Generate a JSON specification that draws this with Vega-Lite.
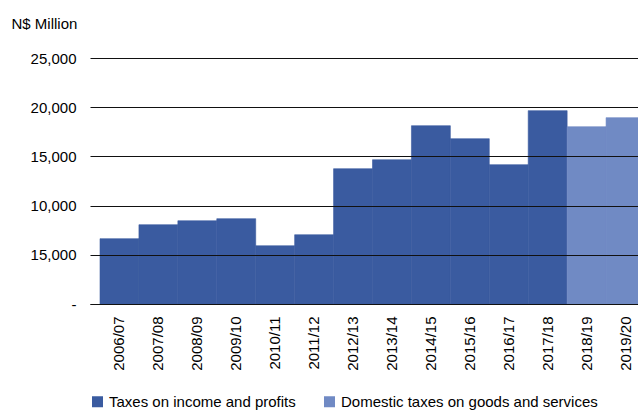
{
  "$schema": "https://vega.github.io/schema/vega-lite/v6.json",
  "width": 548,
  "height": 246,
  "autosize": {"type": "none"},
  "padding": {"left": 90, "top": 58, "right": 0, "bottom": 106},
  "config": {
    "font": "Liberation Sans",
    "view": {"stroke": null},
    "axis": {"labelFont": "Liberation Sans", "titleFont": "Liberation Sans", "labelColor": "#000", "titleColor": "#000"}
  },
  "data": {
    "values": [
      {"year": "2006/07", "value": 6640, "type": "Taxes on income and profits"},
      {"year": "2007/08", "value": 8060, "type": "Taxes on income and profits"},
      {"year": "2008/09", "value": 8460, "type": "Taxes on income and profits"},
      {"year": "2009/10", "value": 8670, "type": "Taxes on income and profits"},
      {"year": "2010/11", "value": 5920, "type": "Taxes on income and profits"},
      {"year": "2011/12", "value": 7040, "type": "Taxes on income and profits"},
      {"year": "2012/13", "value": 13750, "type": "Taxes on income and profits"},
      {"year": "2013/14", "value": 14660, "type": "Taxes on income and profits"},
      {"year": "2014/15", "value": 18120, "type": "Taxes on income and profits"},
      {"year": "2015/16", "value": 16800, "type": "Taxes on income and profits"},
      {"year": "2016/17", "value": 14160, "type": "Taxes on income and profits"},
      {"year": "2017/18", "value": 19650, "type": "Taxes on income and profits"},
      {"year": "2018/19", "value": 18020, "type": "Domestic taxes on goods and services"},
      {"year": "2019/20", "value": 18940, "type": "Domestic taxes on goods and services"}
    ]
  },
  "mark": {"type": "bar", "strokeWidth": 0.6},
  "encoding": {
    "x": {
      "field": "year",
      "type": "ordinal",
      "sort": null,
      "scale": {"range": [0, 565], "paddingInner": 0, "paddingOuter": 0.257},
      "axis": {
        "title": null,
        "labelAngle": 270,
        "labelAlign": "right",
        "labelBaseline": "middle",
        "labelFontSize": 15,
        "labelPadding": 12,
        "ticks": false,
        "domainColor": "#222",
        "domainWidth": 1
      }
    },
    "y": {
      "field": "value",
      "type": "quantitative",
      "scale": {"domain": [0, 25000]},
      "axis": {
        "values": [0, 5000, 10000, 15000, 20000, 25000],
        "labelExpr": "datum.value == 0 ? '-' : datum.value == 5000 ? '15,000' : format(datum.value, ',')",
        "labelFontSize": 15,
        "labelPadding": 14,
        "ticks": false,
        "domain": false,
        "grid": true,
        "gridColor": "#111",
        "gridWidth": 1,
        "zindex": 1,
        "title": "N$ Million",
        "titleAngle": 0,
        "titleAlign": "left",
        "titleBaseline": "alphabetic",
        "titleFontSize": 15,
        "titleFontWeight": "normal",
        "titleX": -79,
        "titleY": -30
      }
    },
    "color": {
      "field": "type",
      "type": "nominal",
      "scale": {
        "domain": ["Taxes on income and profits", "Domestic taxes on goods and services"],
        "range": ["#3A5BA0", "#708AC4"]
      },
      "legend": {
        "title": null,
        "orient": "none",
        "direction": "horizontal",
        "legendX": 0,
        "legendY": 336,
        "symbolType": "square",
        "symbolSize": 121,
        "symbolStrokeWidth": 0,
        "labelFontSize": 15,
        "labelFont": "Liberation Sans",
        "labelColor": "#000",
        "labelOffset": 4,
        "labelLimit": 400,
        "columnPadding": 26
      }
    },
    "stroke": {
      "field": "type",
      "type": "nominal",
      "scale": {
        "domain": ["Taxes on income and profits", "Domestic taxes on goods and services"],
        "range": ["#3A5BA0", "#708AC4"]
      },
      "legend": null
    }
  }
}
